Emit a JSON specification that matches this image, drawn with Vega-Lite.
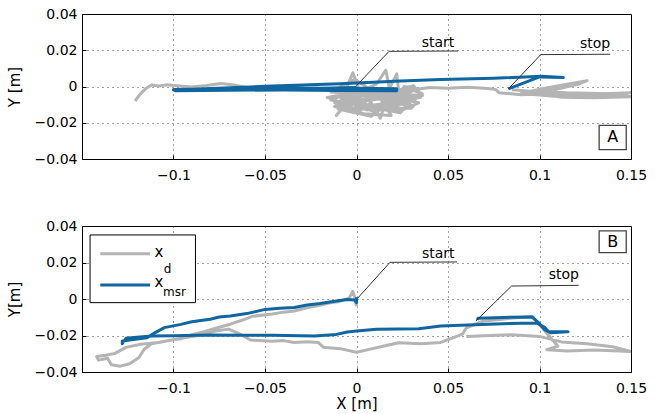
{
  "$schema": "https://vega.github.io/schema/vega-lite/v6.json",
  "padding": {"left": 6, "top": 6, "right": 5, "bottom": 5},
  "bounds": "flush",
  "spacing": 67,
  "config": {
    "font": "DejaVu Sans",
    "view": {"stroke": "black", "strokeWidth": 1},
    "axis": {
      "domainColor": "black",
      "tickColor": "black",
      "tickSize": -4,
      "labelFlush": false,
      "labelColor": "black",
      "labelFontSize": 14,
      "titleColor": "black",
      "titleFontSize": 15,
      "titleFontWeight": "normal",
      "gridColor": "black",
      "gridOpacity": 0.75,
      "gridDash": [1, 4],
      "gridWidth": 1
    }
  },
  "datasets": {
    "tracks": [
      {"panel":"A","series":"xd","i":1,"x":-0.121,"y":-0.008},
      {"panel":"A","series":"xd","i":2,"x":-0.118,"y":-0.004},
      {"panel":"A","series":"xd","i":3,"x":-0.115,"y":-0.001},
      {"panel":"A","series":"xd","i":4,"x":-0.112,"y":0.0008},
      {"panel":"A","series":"xd","i":5,"x":-0.108,"y":0.0003},
      {"panel":"A","series":"xd","i":6,"x":-0.104,"y":0.0009},
      {"panel":"A","series":"xd","i":7,"x":-0.098,"y":0.0004},
      {"panel":"A","series":"xd","i":8,"x":-0.09,"y":-0.0003},
      {"panel":"A","series":"xd","i":9,"x":-0.082,"y":0.0006},
      {"panel":"A","series":"xd","i":10,"x":-0.074,"y":0.0017},
      {"panel":"A","series":"xd","i":11,"x":-0.067,"y":0.0008},
      {"panel":"A","series":"xd","i":12,"x":-0.06,"y":-0.0006},
      {"panel":"A","series":"xd","i":13,"x":-0.052,"y":-0.0016},
      {"panel":"A","series":"xd","i":14,"x":-0.045,"y":-0.0017},
      {"panel":"A","series":"xd","i":15,"x":-0.038,"y":-0.0009},
      {"panel":"A","series":"xd","i":16,"x":-0.03,"y":-0.0013},
      {"panel":"A","series":"xd","i":17,"x":-0.022,"y":-0.0008},
      {"panel":"A","series":"xd","i":18,"x":-0.013,"y":-0.0016},
      {"panel":"A","series":"xd","i":19,"x":-0.006,"y":-0.002},
      {"panel":"A","series":"xd","i":20,"x":-0.002,"y":0.0075},
      {"panel":"A","series":"xd","i":21,"x":0.002,"y":-0.003},
      {"panel":"A","series":"xd","i":22,"x":0.011,"y":0.0015},
      {"panel":"A","series":"xd","i":23,"x":0.016,"y":0.009},
      {"panel":"A","series":"xd","i":24,"x":0.018,"y":-0.001},
      {"panel":"A","series":"xd","i":25,"x":0.022,"y":0.007},
      {"panel":"A","series":"xd","i":26,"x":0.023,"y":-0.002},
      {"panel":"A","series":"xd","i":27,"x":0.031,"y":0.0005},
      {"panel":"A","series":"xd","i":28,"x":0.036,"y":-0.005},
      {"panel":"A","series":"xd","i":29,"x":0.021,"y":-0.004},
      {"panel":"A","series":"xd","i":30,"x":0.031,"y":-0.011},
      {"panel":"A","series":"xd","i":31,"x":0.016,"y":-0.008},
      {"panel":"A","series":"xd","i":32,"x":0.013,"y":-0.0175},
      {"panel":"A","series":"xd","i":33,"x":0.008,"y":-0.009},
      {"panel":"A","series":"xd","i":34,"x":0.001,"y":-0.014},
      {"panel":"A","series":"xd","i":35,"x":-0.003,"y":-0.006},
      {"panel":"A","series":"xd","i":36,"x":-0.011,"y":-0.016},
      {"panel":"A","series":"xd","i":37,"x":-0.006,"y":-0.01},
      {"panel":"A","series":"xd","i":38,"x":-0.016,"y":-0.006},
      {"panel":"A","series":"xd","i":39,"x":-0.005,"y":-0.004},
      {"panel":"A","series":"xd","i":40,"x":0.009,"y":-0.012},
      {"panel":"A","series":"xd","i":41,"x":0.025,"y":-0.013},
      {"panel":"A","series":"xd","i":42,"x":0.034,"y":-0.009},
      {"panel":"A","series":"xd","i":43,"x":0.02,"y":-0.006},
      {"panel":"A","series":"xd","i":44,"x":0.006,"y":-0.0015},
      {"panel":"A","series":"xd","i":45,"x":-0.009,"y":-0.008},
      {"panel":"A","series":"xd","i":46,"x":0.0,"y":-0.006},
      {"panel":"A","series":"xd","i":47,"x":0.015,"y":-0.003},
      {"panel":"A","series":"xd","i":48,"x":0.029,"y":-0.007},
      {"panel":"A","series":"xd","i":49,"x":0.011,"y":-0.007},
      {"panel":"A","series":"xd","i":50,"x":-0.012,"y":-0.011},
      {"panel":"A","series":"xd","i":51,"x":0.004,"y":-0.015},
      {"panel":"A","series":"xd","i":52,"x":0.019,"y":-0.016},
      {"panel":"A","series":"xd","i":53,"x":0.012,"y":-0.005},
      {"panel":"A","series":"xd","i":54,"x":-0.014,"y":-0.003},
      {"panel":"A","series":"xd","i":55,"x":-0.001,"y":0.004},
      {"panel":"A","series":"xd","i":56,"x":0.008,"y":-0.002},
      {"panel":"A","series":"xd","i":57,"x":0.021,"y":-0.009},
      {"panel":"A","series":"xd","i":58,"x":0.036,"y":-0.004},
      {"panel":"A","series":"xd","i":59,"x":0.026,"y":0.0},
      {"panel":"A","series":"xd","i":60,"x":0.032,"y":-0.001},
      {"panel":"A","series":"xd","i":61,"x":0.018,"y":-0.0045},
      {"panel":"A","series":"xd","i":62,"x":0.003,"y":-0.008},
      {"panel":"A","series":"xd","i":63,"x":-0.01,"y":-0.0055},
      {"panel":"A","series":"xd","i":64,"x":0.005,"y":-0.011},
      {"panel":"A","series":"xd","i":65,"x":0.022,"y":-0.011},
      {"panel":"A","series":"xd","i":66,"x":0.03,"y":-0.005},
      {"panel":"A","series":"xd","i":67,"x":0.014,"y":-0.0095},
      {"panel":"A","series":"xd","i":68,"x":-0.002,"y":-0.012},
      {"panel":"A","series":"xd","i":69,"x":-0.008,"y":-0.0045},
      {"panel":"A","series":"xd","i":70,"x":0.007,"y":-0.0045},
      {"panel":"A","series":"xd","i":71,"x":0.024,"y":-0.008},
      {"panel":"A","series":"xd","i":72,"x":0.01,"y":-0.014},
      {"panel":"A","series":"xd","i":73,"x":-0.004,"y":-0.0085},
      {"panel":"A","series":"xd","i":74,"x":0.013,"y":-0.0065},
      {"panel":"A","series":"xd","i":75,"x":0.027,"y":-0.0025},
      {"panel":"A","series":"xd","i":75.01,"x":0.02,"y":-0.003},
      {"panel":"A","series":"xd","i":75.02,"x":0.004,"y":-0.007},
      {"panel":"A","series":"xd","i":75.03,"x":-0.012,"y":-0.009},
      {"panel":"A","series":"xd","i":75.04,"x":0.0,"y":-0.0125},
      {"panel":"A","series":"xd","i":75.05,"x":0.017,"y":-0.0115},
      {"panel":"A","series":"xd","i":75.06,"x":0.032,"y":-0.0075},
      {"panel":"A","series":"xd","i":75.07,"x":0.018,"y":-0.0025},
      {"panel":"A","series":"xd","i":75.08,"x":-0.004,"y":-0.0035},
      {"panel":"A","series":"xd","i":75.09,"x":-0.014,"y":-0.0075},
      {"panel":"A","series":"xd","i":75.1,"x":0.002,"y":-0.0105},
      {"panel":"A","series":"xd","i":75.11,"x":0.024,"y":-0.0145},
      {"panel":"A","series":"xd","i":75.12,"x":0.028,"y":-0.0095},
      {"panel":"A","series":"xd","i":75.13,"x":0.01,"y":-0.0035},
      {"panel":"A","series":"xd","i":75.14,"x":-0.007,"y":-0.0065},
      {"panel":"A","series":"xd","i":75.15,"x":0.006,"y":-0.013},
      {"panel":"A","series":"xd","i":75.16,"x":0.022,"y":-0.0065},
      {"panel":"A","series":"xd","i":75.17,"x":0.035,"y":-0.006},
      {"panel":"A","series":"xd","i":75.18,"x":0.015,"y":-0.0105},
      {"panel":"A","series":"xd","i":75.19,"x":-0.002,"y":-0.0095},
      {"panel":"A","series":"xd","i":75.2,"x":-0.01,"y":-0.0125},
      {"panel":"A","series":"xd","i":75.21,"x":0.008,"y":-0.0165},
      {"panel":"A","series":"xd","i":75.22,"x":0.014,"y":-0.012},
      {"panel":"A","series":"xd","i":75.23,"x":0.03,"y":-0.012},
      {"panel":"A","series":"xd","i":75.24,"x":0.012,"y":-0.0025},
      {"panel":"A","series":"xd","i":75.25,"x":0.0,"y":-0.0045},
      {"panel":"A","series":"xd","i":75.26,"x":0.018,"y":-0.0075},
      {"panel":"A","series":"xd","i":75.27,"x":0.026,"y":-0.0045},
      {"panel":"A","series":"xd","i":76,"x":0.033,"y":-0.0015},
      {"panel":"A","series":"xd","i":77,"x":0.04,"y":-0.0006},
      {"panel":"A","series":"xd","i":78,"x":0.05,"y":-0.001},
      {"panel":"A","series":"xd","i":79,"x":0.06,"y":-0.0004},
      {"panel":"A","series":"xd","i":80,"x":0.07,"y":-0.0009},
      {"panel":"A","series":"xd","i":81,"x":0.076,"y":-0.0016},
      {"panel":"A","series":"xd","i":82,"x":0.078,"y":-0.0035},
      {"panel":"A","series":"xd","i":83,"x":0.09,"y":-0.0045},
      {"panel":"A","series":"xd","i":84,"x":0.105,"y":-0.004},
      {"panel":"A","series":"xd","i":85,"x":0.12,"y":-0.0045},
      {"panel":"A","series":"xd","i":86,"x":0.15,"y":-0.0035},
      {"panel":"A","series":"xd","i":87,"x":0.135,"y":-0.0052},
      {"panel":"A","series":"xd","i":88,"x":0.11,"y":-0.0055},
      {"panel":"A","series":"xd","i":89,"x":0.09,"y":-0.0038},
      {"panel":"A","series":"xd","i":90,"x":0.1,"y":-0.0015},
      {"panel":"A","series":"xd","i":91,"x":0.115,"y":0.0012},
      {"panel":"A","series":"xd","i":92,"x":0.126,"y":0.0032},
      {"panel":"A","series":"xd","i":93,"x":0.121,"y":0.0012},
      {"panel":"A","series":"xd","i":94,"x":0.108,"y":-0.0018},
      {"panel":"A","series":"xd","i":95,"x":0.095,"y":-0.003},
      {"panel":"A","series":"xd","i":96,"x":0.112,"y":-0.006},
      {"panel":"A","series":"xd","i":97,"x":0.13,"y":-0.0062},
      {"panel":"A","series":"xd","i":98,"x":0.15,"y":-0.0056},
      {"panel":"A","series":"xd","i":99,"x":0.138,"y":-0.004},
      {"panel":"A","series":"xd","i":100,"x":0.115,"y":-0.0035},
      {"panel":"A","series":"xd","i":101,"x":0.095,"y":-0.0026},
      {"panel":"A","series":"xd","i":102,"x":0.085,"y":-0.0018},

      {"panel":"A","series":"xmsr","i":1,"x":0.0,"y":-0.0006},
      {"panel":"A","series":"xmsr","i":2,"x":-0.02,"y":-0.0009},
      {"panel":"A","series":"xmsr","i":3,"x":-0.05,"y":-0.0012},
      {"panel":"A","series":"xmsr","i":4,"x":-0.08,"y":-0.0014},
      {"panel":"A","series":"xmsr","i":5,"x":-0.1,"y":-0.0016},
      {"panel":"A","series":"xmsr","i":6,"x":-0.099,"y":-0.0023},
      {"panel":"A","series":"xmsr","i":7,"x":-0.07,"y":-0.0021},
      {"panel":"A","series":"xmsr","i":8,"x":-0.04,"y":-0.0019},
      {"panel":"A","series":"xmsr","i":9,"x":-0.01,"y":-0.0022},
      {"panel":"A","series":"xmsr","i":10,"x":0.022,"y":-0.0023},
      {"panel":"A","series":"xmsr","i":11,"x":0.022,"y":-0.0012},
      {"panel":"A","series":"xmsr","i":12,"x":0.0,"y":-0.001},
      {"panel":"A","series":"xmsr","i":13,"x":-0.03,"y":-0.0008},
      {"panel":"A","series":"xmsr","i":14,"x":-0.06,"y":-0.0011},
      {"panel":"A","series":"xmsr","i":15,"x":-0.1,"y":-0.0019},
      {"panel":"A","series":"xmsr","i":16,"x":-0.05,"y":0.0001},
      {"panel":"A","series":"xmsr","i":17,"x":-0.009,"y":0.0015},
      {"panel":"A","series":"xmsr","i":18,"x":0.024,"y":0.0031},
      {"panel":"A","series":"xmsr","i":19,"x":0.046,"y":0.0038},
      {"panel":"A","series":"xmsr","i":20,"x":0.075,"y":0.0045},
      {"panel":"A","series":"xmsr","i":21,"x":0.101,"y":0.0057},
      {"panel":"A","series":"xmsr","i":22,"x":0.113,"y":0.0049},
      {"panel":"A","series":"xmsr","i":23,"x":0.1,"y":0.0053},
      {"panel":"A","series":"xmsr","i":24,"x":0.083,"y":-0.0013},

      {"panel":"B","series":"xd","i":1,"x":0.0,"y":-0.004},
      {"panel":"B","series":"xd","i":2,"x":-0.001,"y":0.001},
      {"panel":"B","series":"xd","i":3,"x":-0.002,"y":0.0042},
      {"panel":"B","series":"xd","i":4,"x":-0.004,"y":0.0005},
      {"panel":"B","series":"xd","i":5,"x":-0.01,"y":-0.0015},
      {"panel":"B","series":"xd","i":5.5,"x":-0.015,"y":-0.0022},
      {"panel":"B","series":"xd","i":6,"x":-0.02,"y":-0.0035},
      {"panel":"B","series":"xd","i":6.5,"x":-0.027,"y":-0.0048},
      {"panel":"B","series":"xd","i":7,"x":-0.034,"y":-0.0066},
      {"panel":"B","series":"xd","i":7.5,"x":-0.04,"y":-0.0072},
      {"panel":"B","series":"xd","i":8,"x":-0.046,"y":-0.0082},
      {"panel":"B","series":"xd","i":9,"x":-0.057,"y":-0.0095},
      {"panel":"B","series":"xd","i":10,"x":-0.063,"y":-0.0118},
      {"panel":"B","series":"xd","i":11,"x":-0.069,"y":-0.0138},
      {"panel":"B","series":"xd","i":12,"x":-0.077,"y":-0.016},
      {"panel":"B","series":"xd","i":13,"x":-0.085,"y":-0.0184},
      {"panel":"B","series":"xd","i":13.5,"x":-0.09,"y":-0.0196},
      {"panel":"B","series":"xd","i":14,"x":-0.096,"y":-0.0218},
      {"panel":"B","series":"xd","i":14.5,"x":-0.102,"y":-0.0226},
      {"panel":"B","series":"xd","i":15,"x":-0.108,"y":-0.0238},
      {"panel":"B","series":"xd","i":16,"x":-0.118,"y":-0.0248},
      {"panel":"B","series":"xd","i":17,"x":-0.126,"y":-0.0265},
      {"panel":"B","series":"xd","i":18,"x":-0.132,"y":-0.0298},
      {"panel":"B","series":"xd","i":19,"x":-0.137,"y":-0.0308},
      {"panel":"B","series":"xd","i":20,"x":-0.142,"y":-0.0315},
      {"panel":"B","series":"xd","i":21,"x":-0.141,"y":-0.0335},
      {"panel":"B","series":"xd","i":22,"x":-0.136,"y":-0.0325},
      {"panel":"B","series":"xd","i":23,"x":-0.134,"y":-0.036},
      {"panel":"B","series":"xd","i":24,"x":-0.129,"y":-0.0368},
      {"panel":"B","series":"xd","i":25,"x":-0.124,"y":-0.0355},
      {"panel":"B","series":"xd","i":26,"x":-0.119,"y":-0.0322},
      {"panel":"B","series":"xd","i":27,"x":-0.116,"y":-0.0275},
      {"panel":"B","series":"xd","i":28,"x":-0.112,"y":-0.0245},
      {"panel":"B","series":"xd","i":29,"x":-0.103,"y":-0.0228},
      {"panel":"B","series":"xd","i":30,"x":-0.094,"y":-0.0212},
      {"panel":"B","series":"xd","i":31,"x":-0.085,"y":-0.0198},
      {"panel":"B","series":"xd","i":32,"x":-0.077,"y":-0.0175},
      {"panel":"B","series":"xd","i":33,"x":-0.07,"y":-0.0165},
      {"panel":"B","series":"xd","i":34,"x":-0.064,"y":-0.019},
      {"panel":"B","series":"xd","i":35,"x":-0.058,"y":-0.0225},
      {"panel":"B","series":"xd","i":36,"x":-0.046,"y":-0.0232},
      {"panel":"B","series":"xd","i":36.5,"x":-0.04,"y":-0.0228},
      {"panel":"B","series":"xd","i":37,"x":-0.034,"y":-0.0238},
      {"panel":"B","series":"xd","i":37.5,"x":-0.027,"y":-0.0234},
      {"panel":"B","series":"xd","i":38,"x":-0.021,"y":-0.0238},
      {"panel":"B","series":"xd","i":39,"x":-0.018,"y":-0.0265},
      {"panel":"B","series":"xd","i":40,"x":-0.009,"y":-0.0272},
      {"panel":"B","series":"xd","i":41,"x":0.0,"y":-0.0292},
      {"panel":"B","series":"xd","i":42,"x":0.007,"y":-0.0276},
      {"panel":"B","series":"xd","i":43,"x":0.015,"y":-0.0258},
      {"panel":"B","series":"xd","i":44,"x":0.023,"y":-0.024},
      {"panel":"B","series":"xd","i":45,"x":0.035,"y":-0.0245},
      {"panel":"B","series":"xd","i":46,"x":0.046,"y":-0.0238},
      {"panel":"B","series":"xd","i":47,"x":0.053,"y":-0.0212},
      {"panel":"B","series":"xd","i":48,"x":0.058,"y":-0.0192},
      {"panel":"B","series":"xd","i":49,"x":0.06,"y":-0.0158},
      {"panel":"B","series":"xd","i":50,"x":0.069,"y":-0.0122},
      {"panel":"B","series":"xd","i":51,"x":0.082,"y":-0.0108},
      {"panel":"B","series":"xd","i":52,"x":0.096,"y":-0.0094},
      {"panel":"B","series":"xd","i":53,"x":0.1,"y":-0.014},
      {"panel":"B","series":"xd","i":54,"x":0.105,"y":-0.02},
      {"panel":"B","series":"xd","i":55,"x":0.11,"y":-0.0258},
      {"panel":"B","series":"xd","i":56,"x":0.104,"y":-0.0278},
      {"panel":"B","series":"xd","i":57,"x":0.115,"y":-0.0285},
      {"panel":"B","series":"xd","i":58,"x":0.13,"y":-0.028},
      {"panel":"B","series":"xd","i":59,"x":0.15,"y":-0.0288},
      {"panel":"B","series":"xd","i":60,"x":0.14,"y":-0.0262},
      {"panel":"B","series":"xd","i":61,"x":0.126,"y":-0.0245},
      {"panel":"B","series":"xd","i":62,"x":0.112,"y":-0.0235},
      {"panel":"B","series":"xd","i":63,"x":0.1,"y":-0.0205},
      {"panel":"B","series":"xd","i":64,"x":0.085,"y":-0.0196},
      {"panel":"B","series":"xd","i":65,"x":0.07,"y":-0.0202},
      {"panel":"B","series":"xd","i":66,"x":0.06,"y":-0.0205},

      {"panel":"B","series":"xmsr","i":1,"x":0.0,"y":0.001},
      {"panel":"B","series":"xmsr","i":2,"x":0.0,"y":-0.002},
      {"panel":"B","series":"xmsr","i":3,"x":-0.001,"y":-0.0005},
      {"panel":"B","series":"xmsr","i":4,"x":-0.005,"y":-0.0003},
      {"panel":"B","series":"xmsr","i":5,"x":-0.011,"y":-0.0011},
      {"panel":"B","series":"xmsr","i":6,"x":-0.02,"y":-0.0025},
      {"panel":"B","series":"xmsr","i":6.5,"x":-0.027,"y":-0.0033},
      {"panel":"B","series":"xmsr","i":7,"x":-0.034,"y":-0.0047},
      {"panel":"B","series":"xmsr","i":7.5,"x":-0.042,"y":-0.0051},
      {"panel":"B","series":"xmsr","i":8,"x":-0.05,"y":-0.0057},
      {"panel":"B","series":"xmsr","i":9,"x":-0.06,"y":-0.008},
      {"panel":"B","series":"xmsr","i":10,"x":-0.069,"y":-0.0093},
      {"panel":"B","series":"xmsr","i":10.5,"x":-0.075,"y":-0.0099},
      {"panel":"B","series":"xmsr","i":11,"x":-0.08,"y":-0.0111},
      {"panel":"B","series":"xmsr","i":12,"x":-0.09,"y":-0.0125},
      {"panel":"B","series":"xmsr","i":13,"x":-0.096,"y":-0.0139},
      {"panel":"B","series":"xmsr","i":14,"x":-0.105,"y":-0.0157},
      {"panel":"B","series":"xmsr","i":15,"x":-0.11,"y":-0.0184},
      {"panel":"B","series":"xmsr","i":16,"x":-0.1145,"y":-0.0212},
      {"panel":"B","series":"xmsr","i":17,"x":-0.121,"y":-0.0221},
      {"panel":"B","series":"xmsr","i":18,"x":-0.128,"y":-0.023},
      {"panel":"B","series":"xmsr","i":19,"x":-0.128,"y":-0.0245},
      {"panel":"B","series":"xmsr","i":20,"x":-0.126,"y":-0.0215},
      {"panel":"B","series":"xmsr","i":21,"x":-0.12,"y":-0.021},
      {"panel":"B","series":"xmsr","i":22,"x":-0.112,"y":-0.0203},
      {"panel":"B","series":"xmsr","i":23,"x":-0.1,"y":-0.0201},
      {"panel":"B","series":"xmsr","i":24,"x":-0.08,"y":-0.0197},
      {"panel":"B","series":"xmsr","i":25,"x":-0.06,"y":-0.0199},
      {"panel":"B","series":"xmsr","i":26,"x":-0.046,"y":-0.0199},
      {"panel":"B","series":"xmsr","i":27,"x":-0.023,"y":-0.0203},
      {"panel":"B","series":"xmsr","i":28,"x":-0.011,"y":-0.0194},
      {"panel":"B","series":"xmsr","i":29,"x":-0.005,"y":-0.0181},
      {"panel":"B","series":"xmsr","i":30,"x":0.0,"y":-0.0175},
      {"panel":"B","series":"xmsr","i":31,"x":0.011,"y":-0.0166},
      {"panel":"B","series":"xmsr","i":32,"x":0.034,"y":-0.0163},
      {"panel":"B","series":"xmsr","i":33,"x":0.046,"y":-0.0148},
      {"panel":"B","series":"xmsr","i":34,"x":0.057,"y":-0.0144},
      {"panel":"B","series":"xmsr","i":35,"x":0.08,"y":-0.0135},
      {"panel":"B","series":"xmsr","i":36,"x":0.0985,"y":-0.0131},
      {"panel":"B","series":"xmsr","i":37,"x":0.103,"y":-0.0157},
      {"panel":"B","series":"xmsr","i":38,"x":0.105,"y":-0.0179},
      {"panel":"B","series":"xmsr","i":39,"x":0.1156,"y":-0.0179},
      {"panel":"B","series":"xmsr","i":40,"x":0.106,"y":-0.0185},
      {"panel":"B","series":"xmsr","i":41,"x":0.103,"y":-0.017},
      {"panel":"B","series":"xmsr","i":42,"x":0.099,"y":-0.0125},
      {"panel":"B","series":"xmsr","i":43,"x":0.096,"y":-0.0099},
      {"panel":"B","series":"xmsr","i":44,"x":0.08,"y":-0.0101},
      {"panel":"B","series":"xmsr","i":45,"x":0.0664,"y":-0.0106},
      {"panel":"B","series":"xmsr","i":46,"x":0.066,"y":-0.0115}
    ],
    "leaders": [
      {"panel":"A","id":"start","i":1,"x":0.0,"y":0.0005},
      {"panel":"A","id":"start","i":2,"x":0.0178,"y":0.0194},
      {"panel":"A","id":"start","i":3,"x":0.0556,"y":0.0196},
      {"panel":"A","id":"stop","i":1,"x":0.083,"y":-0.0013},
      {"panel":"A","id":"stop","i":2,"x":0.1007,"y":0.0176},
      {"panel":"A","id":"stop","i":3,"x":0.1386,"y":0.0178},
      {"panel":"B","id":"start","i":1,"x":0.0007,"y":0.0005},
      {"panel":"B","id":"start","i":2,"x":0.0183,"y":0.0201},
      {"panel":"B","id":"start","i":3,"x":0.055,"y":0.0203},
      {"panel":"B","id":"stop","i":1,"x":0.0653,"y":-0.012},
      {"panel":"B","id":"stop","i":2,"x":0.0847,"y":0.0071},
      {"panel":"B","id":"stop","i":3,"x":0.1214,"y":0.0075}
    ],
    "labels": [
      {"panel":"A","kind":"note","text":"start","x":0.0445,"y":0.0238},
      {"panel":"A","kind":"note","text":"stop","x":0.1304,"y":0.0235},
      {"panel":"A","kind":"tag","text":"A","x":0.14,"y":-0.0281},
      {"panel":"B","kind":"note","text":"start","x":0.0447,"y":0.0245},
      {"panel":"B","kind":"note","text":"stop","x":0.1133,"y":0.0131},
      {"panel":"B","kind":"tag","text":"B","x":0.14,"y":0.0314},
      {"panel":"B","kind":"legmain","text":"x","x":-0.108,"y":0.0258},
      {"panel":"B","kind":"legsub","text":"d","x":-0.1033,"y":0.0164},
      {"panel":"B","kind":"legmain","text":"x","x":-0.108,"y":0.0093},
      {"panel":"B","kind":"legsub","text":"msr","x":-0.0995,"y":0.0038}
    ],
    "boxes": [
      {"panel":"A","kind":"tag","x":0.1326,"x2":0.1474,"y":-0.0214,"y2":-0.0348},
      {"panel":"B","kind":"tag","x":0.1326,"x2":0.1474,"y":0.0373,"y2":0.0254},
      {"panel":"B","kind":"legend","x":-0.1456,"x2":-0.088,"y":0.0351,"y2":-0.002}
    ],
    "legendlines": [
      {"panel":"B","series":"xd","x":-0.14,"x2":-0.1128,"y":0.0248},
      {"panel":"B","series":"xmsr","x":-0.14,"x2":-0.1128,"y":0.0077}
    ]
  },
  "vconcat": [
    {
      "width": 549,
      "height": 145,
      "encoding": {
        "x": {"field": "x", "type": "quantitative", "scale": {"domain": [-0.15, 0.15], "nice": false, "zero": false},
              "axis": {"title": null, "values": [-0.1, -0.05, 0, 0.05, 0.1, 0.15], "format": ".2~f", "grid": true, "labelPadding": 13}},
        "y": {"field": "y", "type": "quantitative", "scale": {"domain": [-0.04, 0.04], "nice": false, "zero": false},
              "axis": {"title": "Y [m]", "values": [-0.04, -0.02, 0, 0.02, 0.04], "format": ".2~f", "grid": true, "labelPadding": 9, "titlePadding": 12}}
      },
      "layer": [
        {
          "data": {"name": "tracks"},
          "transform": [{"filter": "datum.panel === 'A' && datum.series === 'xd'"}],
          "mark": {"type": "line", "strokeWidth": 3, "clip": true, "strokeJoin": "round"},
          "encoding": {
            "color": {"field": "series", "type": "nominal", "scale": {"domain": ["xd", "xmsr"], "range": ["#b4b4b4", "#0f66a0"]}, "legend": null},
            "order": {"field": "i", "type": "quantitative"}
          }
        },
        {
          "data": {"name": "tracks"},
          "transform": [{"filter": "datum.panel === 'A' && datum.series === 'xmsr'"}],
          "mark": {"type": "line", "strokeWidth": 3, "clip": true, "strokeJoin": "round"},
          "encoding": {
            "color": {"field": "series", "type": "nominal", "legend": null},
            "order": {"field": "i", "type": "quantitative"}
          }
        },
        {
          "data": {"name": "leaders"},
          "transform": [{"filter": "datum.panel === 'A'"}],
          "mark": {"type": "line", "color": "#333333", "strokeWidth": 1},
          "encoding": {
            "detail": {"field": "id"},
            "order": {"field": "i", "type": "quantitative"}
          }
        },
        {
          "data": {"name": "boxes"},
          "transform": [{"filter": "datum.panel === 'A'"}],
          "mark": {"type": "rect", "fill": "white", "stroke": "#444444", "strokeWidth": 1.3},
          "encoding": {
            "x2": {"field": "x2"},
            "y2": {"field": "y2"}
          }
        },
        {
          "data": {"name": "labels"},
          "transform": [{"filter": "datum.panel === 'A' && datum.kind === 'note'"}],
          "mark": {"type": "text", "fontSize": 14, "color": "black", "baseline": "middle", "align": "center"},
          "encoding": {"text": {"field": "text"}}
        },
        {
          "data": {"name": "labels"},
          "transform": [{"filter": "datum.panel === 'A' && datum.kind === 'tag'"}],
          "mark": {"type": "text", "fontSize": 16, "color": "black", "baseline": "middle", "align": "center"},
          "encoding": {"text": {"field": "text"}}
        }
      ]
    },
    {
      "width": 549,
      "height": 146,
      "encoding": {
        "x": {"field": "x", "type": "quantitative", "scale": {"domain": [-0.15, 0.15], "nice": false, "zero": false},
              "axis": {"title": "X [m]", "values": [-0.1, -0.05, 0, 0.05, 0.1, 0.15], "format": ".2~f", "grid": true, "labelPadding": 13, "titlePadding": 1}},
        "y": {"field": "y", "type": "quantitative", "scale": {"domain": [-0.04, 0.04], "nice": false, "zero": false},
              "axis": {"title": "Y[m]", "values": [-0.04, -0.02, 0, 0.02, 0.04], "format": ".2~f", "grid": true, "labelPadding": 9, "titlePadding": 12}}
      },
      "layer": [
        {
          "data": {"name": "tracks"},
          "transform": [{"filter": "datum.panel === 'B' && datum.series === 'xd'"}],
          "mark": {"type": "line", "strokeWidth": 3, "clip": true, "strokeJoin": "round"},
          "encoding": {
            "color": {"field": "series", "type": "nominal", "scale": {"domain": ["xd", "xmsr"], "range": ["#b4b4b4", "#0f66a0"]}, "legend": null},
            "order": {"field": "i", "type": "quantitative"}
          }
        },
        {
          "data": {"name": "tracks"},
          "transform": [{"filter": "datum.panel === 'B' && datum.series === 'xmsr'"}],
          "mark": {"type": "line", "strokeWidth": 3, "clip": true, "strokeJoin": "round"},
          "encoding": {
            "color": {"field": "series", "type": "nominal", "legend": null},
            "order": {"field": "i", "type": "quantitative"}
          }
        },
        {
          "data": {"name": "leaders"},
          "transform": [{"filter": "datum.panel === 'B'"}],
          "mark": {"type": "line", "color": "#333333", "strokeWidth": 1},
          "encoding": {
            "detail": {"field": "id"},
            "order": {"field": "i", "type": "quantitative"}
          }
        },
        {
          "data": {"name": "boxes"},
          "transform": [{"filter": "datum.panel === 'B' && datum.kind === 'tag'"}],
          "mark": {"type": "rect", "fill": "white", "stroke": "#444444", "strokeWidth": 1.3},
          "encoding": {
            "x2": {"field": "x2"},
            "y2": {"field": "y2"}
          }
        },
        {
          "data": {"name": "boxes"},
          "transform": [{"filter": "datum.panel === 'B' && datum.kind === 'legend'"}],
          "mark": {"type": "rect", "fill": "white", "stroke": "black", "strokeWidth": 1},
          "encoding": {
            "x2": {"field": "x2"},
            "y2": {"field": "y2"}
          }
        },
        {
          "data": {"name": "legendlines"},
          "mark": {"type": "rule", "strokeWidth": 3},
          "encoding": {
            "x2": {"field": "x2"},
            "color": {"field": "series", "type": "nominal", "legend": null}
          }
        },
        {
          "data": {"name": "labels"},
          "transform": [{"filter": "datum.panel === 'B' && datum.kind === 'note'"}],
          "mark": {"type": "text", "fontSize": 14, "color": "black", "baseline": "middle", "align": "center"},
          "encoding": {"text": {"field": "text"}}
        },
        {
          "data": {"name": "labels"},
          "transform": [{"filter": "datum.panel === 'B' && datum.kind === 'tag'"}],
          "mark": {"type": "text", "fontSize": 16, "color": "black", "baseline": "middle", "align": "center"},
          "encoding": {"text": {"field": "text"}}
        },
        {
          "data": {"name": "labels"},
          "transform": [{"filter": "datum.panel === 'B' && datum.kind === 'legmain'"}],
          "mark": {"type": "text", "fontSize": 15, "color": "black", "baseline": "middle", "align": "center"},
          "encoding": {"text": {"field": "text"}}
        },
        {
          "data": {"name": "labels"},
          "transform": [{"filter": "datum.panel === 'B' && datum.kind === 'legsub'"}],
          "mark": {"type": "text", "fontSize": 12, "color": "black", "baseline": "middle", "align": "center"},
          "encoding": {"text": {"field": "text"}}
        }
      ]
    }
  ]
}
